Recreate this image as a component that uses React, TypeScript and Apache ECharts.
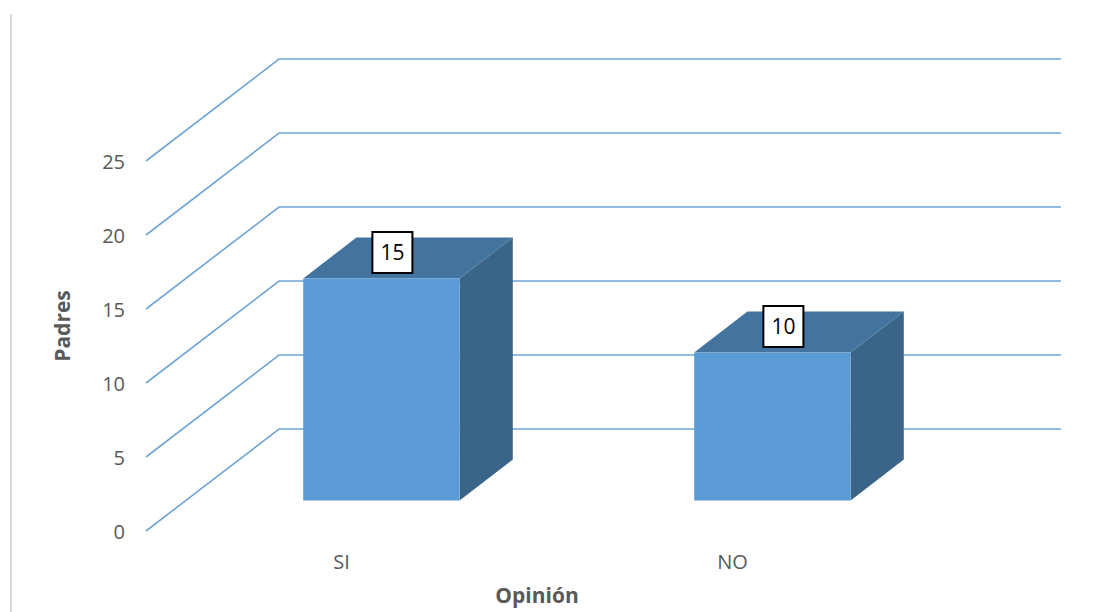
import React, { useEffect, useRef } from "react";
import * as echarts from "echarts";

const categories = ["SI", "NO"];
const values = [15, 10];
const yTicks = [0, 5, 10, 15, 20, 25];
const yMin = 0;
const yMax = 25;
const yInterval = 5;
const xTitle = "Opinión";
const yTitle = "Padres";

// 3D depth projection (front plane -> back wall)
const DX = 133;
const DY = -102;
const FRONT = 0.3;
const BACK = 0.7;

const FONT = "'Open Sans', 'Noto Sans', sans-serif";
const GRID_COLOR = "#6fa5d9";

export default function App() {
  const ref = useRef<HTMLDivElement>(null);

  useEffect(() => {
    document.body.style.margin = "0";
    const chart = echarts.init(ref.current!, null, { renderer: "svg" });

    const option: any = {
      animation: false,
      backgroundColor: "#ffffff",
      textStyle: { fontFamily: FONT },
      graphic: [
        {
          type: "line",
          shape: { x1: 11, y1: 14, x2: 11, y2: 612 },
          style: { stroke: "#d9d9d9", lineWidth: 2 },
          silent: true,
        },
      ],
      grid: { left: 146, right: 172, top: 161, bottom: 81 },
      xAxis: {
        type: "category",
        data: categories,
        name: xTitle,
        nameLocation: "middle",
        nameGap: 53,
        nameTextStyle: { fontSize: 21, fontWeight: "bold", color: "#595959", fontFamily: FONT },
        axisLine: { show: false },
        axisTick: { show: false },
        axisLabel: { margin: 20, fontSize: 20, color: "#595959", fontFamily: FONT },
        splitLine: { show: false },
      },
      yAxis: {
        type: "value",
        min: yMin,
        max: yMax,
        interval: yInterval,
        name: yTitle,
        nameLocation: "middle",
        nameGap: 74,
        nameTextStyle: {
          fontSize: 21,
          fontWeight: "bold",
          color: "#595959",
          fontFamily: FONT,
          padding: [0, 0, 0, 40],
        },
        axisLine: { show: false },
        axisTick: { show: false },
        axisLabel: { margin: 21, fontSize: 20, color: "#595959", fontFamily: FONT },
        splitLine: { show: false },
      },
      series: [
        {
          type: "custom",
          silent: true,
          z: 1,
          data: yTicks.map((v) => [0, v]),
          renderItem: (params: any, api: any) => {
            const v = api.value(1);
            const y = api.coord([0, v])[1];
            const cs = params.coordSys;
            return {
              type: "polyline",
              shape: {
                points: [
                  [cs.x, y],
                  [cs.x + DX, y + DY],
                  [cs.x + cs.width + DX, y + DY],
                ],
              },
              style: { stroke: GRID_COLOR, lineWidth: 1.6, fill: null },
            };
          },
        },
        {
          type: "custom",
          z: 2,
          data: values.map((v, i) => [i, v]),
          renderItem: (params: any, api: any) => {
            const i = api.value(0);
            const v = api.value(1);
            const base = api.coord([i, 0]);
            const top = api.coord([i, v]);
            const cx = base[0];
            const y0 = base[1];
            const y1 = top[1];
            const w = api.size([1, 0])[0] * 0.4;
            const fx = DX * FRONT;
            const fy = DY * FRONT;
            const bx = DX * BACK;
            const by = DY * BACK;
            const l = cx - w / 2;
            const r = cx + w / 2;
            return {
              type: "group",
              children: [
                {
                  type: "polygon",
                  shape: {
                    points: [
                      [r + fx, y1 + fy],
                      [r + fx, y0 + fy],
                      [r + bx, y0 + by],
                      [r + bx, y1 + by],
                    ],
                  },
                  style: { fill: "#3a6588" },
                },
                {
                  type: "polygon",
                  shape: {
                    points: [
                      [l + fx, y1 + fy],
                      [r + fx, y1 + fy],
                      [r + bx, y1 + by],
                      [l + bx, y1 + by],
                    ],
                  },
                  style: { fill: "#43749f" },
                },
                {
                  type: "rect",
                  shape: { x: l + fx, y: y1 + fy, width: w, height: y0 - y1 },
                  style: { fill: "#5b9bd5" },
                },
                {
                  type: "text",
                  x: cx + fx + 11,
                  y: y1 + fy - 26,
                  style: {
                    text: String(v),
                    align: "center",
                    verticalAlign: "middle",
                    fontSize: 21,
                    fontFamily: FONT,
                    fill: "#000000",
                    backgroundColor: "#ffffff",
                    borderColor: "#000000",
                    borderWidth: 2,
                    padding: [10, 7, 8, 7],
                  },
                },
              ],
            };
          },
        },
      ],
    };

    chart.setOption(option);
    return () => chart.dispose();
  }, []);

  return (
    <div
      ref={ref}
      style={{ position: "fixed", left: 0, top: 0, width: 1100, height: 612 }}
    />
  );
}
